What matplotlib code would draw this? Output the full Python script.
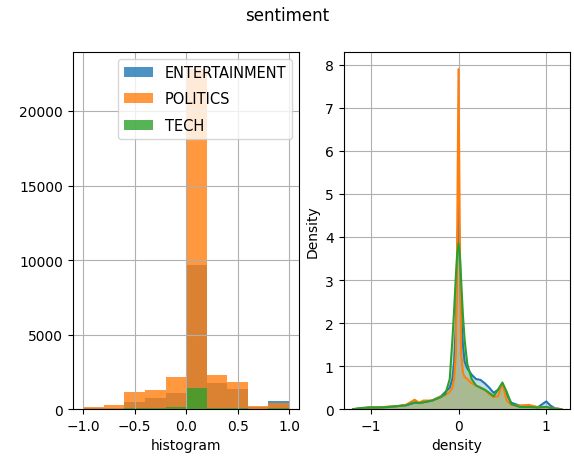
import numpy as np
import matplotlib
matplotlib.use("Agg")
import matplotlib.pyplot as plt

CATEGORIES = ["ENTERTAINMENT", "POLITICS", "TECH"]
COLORS = ["tab:blue", "tab:orange", "tab:green"]

# histogram: 10 bins over [-1, 1]
BIN_EDGES = [-1.0, -0.8, -0.6, -0.4, -0.2, 0.0, 0.2, 0.4, 0.6, 0.8, 1.0]
HIST_COUNTS = {
    "ENTERTAINMENT": [60, 100, 490, 750, 1100, 9660, 1745, 1340, 150, 520],
    "POLITICS": [160, 270, 1160, 1300, 2170, 22800, 2280, 1830, 225, 430],
    "TECH": [20, 30, 70, 80, 120, 1390, 110, 110, 40, 70],
}

# density curves
KDE_X = [-1.2, -1.1, -1.0, -0.9, -0.8, -0.7, -0.6, -0.5, -0.45, -0.4, -0.3,
         -0.2, -0.15, -0.1, -0.07, -0.05, -0.03, -0.015, 0.0, 0.015, 0.03,
         0.05, 0.07, 0.1, 0.15, 0.2, 0.25, 0.3, 0.35, 0.4, 0.45, 0.5, 0.55,
         0.6, 0.7, 0.8, 0.9, 1.0, 1.05, 1.1, 1.17]
KDE_Y = {
    "ENTERTAINMENT": [0.0, 0.02, 0.04, 0.04, 0.05, 0.07, 0.09, 0.15, 0.15, 0.16, 0.2,
                      0.3, 0.4, 0.5, 0.7, 1.1, 2.0, 3.6, 4.7, 3.6, 2.2,
                      1.5, 1.1, 0.95, 0.8, 0.7, 0.68, 0.6, 0.5, 0.38, 0.45, 0.58, 0.35,
                      0.15, 0.08, 0.08, 0.04, 0.18, 0.08, 0.02, 0.0],
    "POLITICS": [0.0, 0.02, 0.05, 0.04, 0.06, 0.07, 0.1, 0.22, 0.15, 0.2, 0.2,
                 0.3, 0.33, 0.4, 0.5, 0.7, 1.3, 4.0, 7.9, 4.0, 1.3,
                 0.85, 0.75, 0.7, 0.6, 0.55, 0.5, 0.45, 0.35, 0.28, 0.3, 0.6, 0.2,
                 0.1, 0.08, 0.1, 0.05, 0.05, 0.03, 0.02, 0.0],
    "TECH": [0.0, 0.03, 0.04, 0.04, 0.05, 0.07, 0.09, 0.16, 0.14, 0.16, 0.2,
             0.28, 0.35, 0.7, 1.6, 2.3, 3.1, 3.6, 3.85, 3.6, 3.0,
             2.2, 1.6, 1.05, 0.7, 0.55, 0.5, 0.45, 0.38, 0.3, 0.45, 0.62, 0.4,
             0.12, 0.05, 0.05, 0.04, 0.05, 0.03, 0.01, 0.0],
}


def main():
    fig, (ax1, ax2) = plt.subplots(1, 2, figsize=(5.74, 4.64), dpi=100)
    fig.subplots_adjust(left=0.127, right=0.993, bottom=0.116, top=0.886, wspace=0.195)
    fig.suptitle("sentiment", fontsize=12, y=0.985)

    edges = np.array(BIN_EDGES)
    centers = (edges[:-1] + edges[1:]) / 2
    for cat, col in zip(CATEGORIES, COLORS):
        ax1.hist(centers, bins=edges, weights=HIST_COUNTS[cat], alpha=0.8,
                 color=col, label=cat)
    ax1.set_xlim(-1.1, 1.1)
    ax1.set_ylim(0, 23960)
    ax1.set_xticks([-1.0, -0.5, 0.0, 0.5, 1.0])
    ax1.set_xlabel("histogram")
    ax1.grid(True)
    ax1.legend(loc="upper right", fontsize=10.5, labelspacing=0.78,
               borderaxespad=0.5)

    for cat, col in zip(CATEGORIES, COLORS):
        ax2.fill_between(KDE_X, KDE_Y[cat], color=col, alpha=0.25, linewidth=0)
        ax2.plot(KDE_X, KDE_Y[cat], color=col, linewidth=1.5)
    ax2.set_xlim(-1.31, 1.27)
    ax2.set_ylim(0, 8.3)
    ax2.set_xticks([-1, 0, 1])
    ax2.set_xlabel("density")
    ax2.set_ylabel("Density")
    ax2.grid(True)

    fig.savefig("out.png", dpi=100)


if __name__ == "__main__":
    main()
